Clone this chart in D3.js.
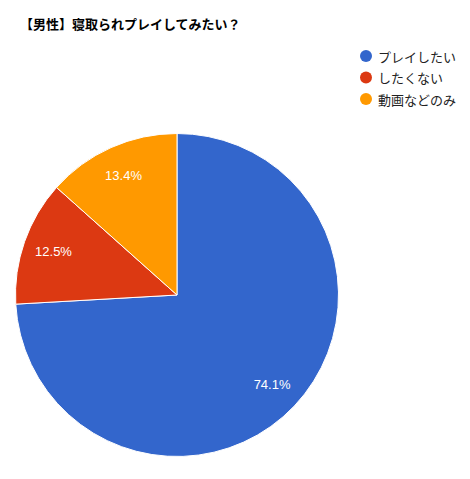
<!DOCTYPE html>
<html>
<head>
<meta charset="utf-8">
<script src="https://cdn.jsdelivr.net/npm/d3@7"></script>
<style>
  body { margin: 0; background: #fff; }
  svg { display: block; font-family: Arial, "Liberation Sans", "Noto Sans CJK JP", sans-serif; }
</style>
</head>
<body>
<div id="chart"></div>
<script>
// Chart data
const title = "【男性】寝取られプレイしてみたい？";
const categories = ["プレイしたい", "したくない", "動画などのみ"];
const values = [74.1, 12.5, 13.4];
const colors = ["#3366cc", "#dc3912", "#ff9900"];

const width = 470, height = 479;
const cx = 177, cy = 295, radius = 161.5;

const svg = d3.select("#chart").append("svg")
    .attr("width", width)
    .attr("height", height);

// Title
svg.append("text")
    .attr("x", 20)
    .attr("y", 29)
    .attr("font-size", 13)
    .attr("font-weight", "bold")
    .attr("fill", "#000")
    .style("font-family", "'Noto Sans CJK JP', sans-serif")
    .text(title);

const data = categories.map((c, i) => ({name: c, value: values[i], color: colors[i]}));

const pie = d3.pie()
    .value(d => d.value)
    .sort(null);

const arc = d3.arc()
    .innerRadius(0)
    .outerRadius(radius);

// labels sit at ~81% of the radius
const labelArc = d3.arc()
    .innerRadius(radius * 0.81)
    .outerRadius(radius * 0.81);

const g = svg.append("g")
    .attr("transform", `translate(${cx},${cy})`);

g.selectAll("path")
    .data(pie(data))
    .enter()
    .append("path")
    .attr("d", arc)
    .attr("fill", d => d.data.color)
    .attr("stroke", "#fff")
    .attr("stroke-width", 1);

g.selectAll("text.label")
    .data(pie(data))
    .enter()
    .append("text")
    .attr("class", "label")
    .attr("transform", d => `translate(${labelArc.centroid(d)})`)
    .attr("text-anchor", "middle")
    .attr("dominant-baseline", "central")
    .attr("font-size", 13)
    .attr("fill", "#fff")
    .text(d => d.data.value.toFixed(1) + "%");

// Legend
const legend = svg.append("g")
    .attr("transform", "translate(366,56)");

data.forEach((d, i) => {
    legend.append("circle")
        .attr("cx", 0)
        .attr("cy", i * 21.5)
        .attr("r", 6)
        .attr("fill", d.color);

    legend.append("text")
        .attr("x", 12)
        .attr("y", i * 21.5)
        .attr("dominant-baseline", "central")
        .attr("font-size", 13)
        .attr("fill", "#222")
        .style("font-family", "'Noto Sans CJK JP', sans-serif")
        .text(d.name);
});
</script>
</body>
</html>
